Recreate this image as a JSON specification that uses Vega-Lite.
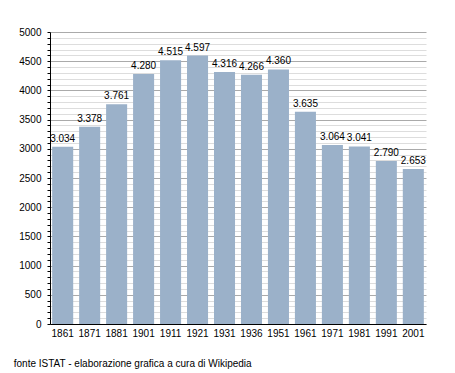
{
  "$schema": "https://vega.github.io/schema/vega-lite/v6.json",
  "width": 376,
  "height": 292,
  "autosize": "none",
  "padding": {"left": 50, "top": 32, "right": 29, "bottom": 49},
  "background": "white",
  "config": {"view": {"stroke": null}, "font": "Liberation Sans"},
  "title": {"text": "fonte ISTAT - elaborazione grafica a cura di Wikipedia", "orient": "bottom", "anchor": "start", "dx": -5, "offset": 21, "fontSize": 10, "fontWeight": "normal", "color": "#000", "font": "Liberation Sans"},
  "data": {"values": [
    {"anno": "1861", "abitanti": 3034, "etichetta": "3.034"},
    {"anno": "1871", "abitanti": 3378, "etichetta": "3.378"},
    {"anno": "1881", "abitanti": 3761, "etichetta": "3.761"},
    {"anno": "1901", "abitanti": 4280, "etichetta": "4.280"},
    {"anno": "1911", "abitanti": 4515, "etichetta": "4.515"},
    {"anno": "1921", "abitanti": 4597, "etichetta": "4.597"},
    {"anno": "1931", "abitanti": 4316, "etichetta": "4.316"},
    {"anno": "1936", "abitanti": 4266, "etichetta": "4.266"},
    {"anno": "1951", "abitanti": 4360, "etichetta": "4.360"},
    {"anno": "1961", "abitanti": 3635, "etichetta": "3.635"},
    {"anno": "1971", "abitanti": 3064, "etichetta": "3.064"},
    {"anno": "1981", "abitanti": 3041, "etichetta": "3.041"},
    {"anno": "1991", "abitanti": 2790, "etichetta": "2.790"},
    {"anno": "2001", "abitanti": 2653, "etichetta": "2.653"}
  ]},
  "encoding": {
    "x": {"field": "anno", "type": "ordinal", "sort": null,
      "scale": {"paddingInner": 0.22, "paddingOuter": 0.08},
      "axis": {"title": null, "labelAngle": 0, "labelFontSize": 10, "labelColor": "#000", "domainColor": "#000", "ticks": false, "labelPadding": 4}},
    "y": {"field": "abitanti", "type": "quantitative",
      "scale": {"domain": [0, 5000], "nice": false},
      "axis": {"title": null,
        "values": [0,100,200,300,400,500,600,700,800,900,1000,1100,1200,1300,1400,1500,1600,1700,1800,1900,2000,2100,2200,2300,2400,2500,2600,2700,2800,2900,3000,3100,3200,3300,3400,3500,3600,3700,3800,3900,4000,4100,4200,4300,4400,4500,4600,4700,4800,4900,5000],
        "labelExpr": "datum.value % 500 === 0 ? datum.value : ''",
        "labelFontSize": 10, "labelColor": "#000", "labelPadding": 6,
        "domainColor": "#000", "tickColor": "#000", "tickSize": 3,
        "grid": true,
        "gridColor": {"condition": {"test": "datum.value % 500 === 0", "value": "#aaaaaa"}, "value": "#dddddd"},
        "gridWidth": 1}}
  },
  "layer": [
    {"mark": {"type": "bar", "color": "#9bb1c9"}},
    {"mark": {"type": "text", "dy": -8, "fontSize": 10, "color": "#000", "font": "Liberation Sans"},
      "encoding": {"text": {"field": "etichetta", "type": "nominal"}}}
  ]
}
